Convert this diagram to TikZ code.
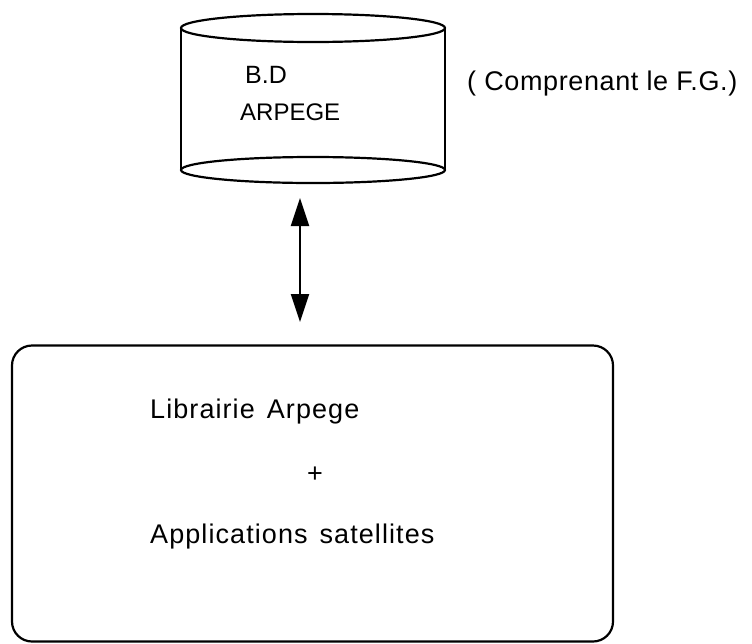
\documentclass[tikz,border=0pt]{standalone}
\usepackage{fontspec}
\setmainfont{Liberation Sans}
\newfontfamily\widesans[LetterSpace=4,WordSpace=1.4]{Liberation Sans}
\newfontfamily\midsans[LetterSpace=2.3]{Liberation Sans}
\usetikzlibrary{arrows.meta}
\begin{document}
\begin{tikzpicture}[x=1pt,y=-1pt,
  stroke/.style={line width=2.2pt, black},
  lbl/.style={inner sep=0pt, anchor=base west, font=\fontsize{25}{30}\selectfont},
  boxlbl/.style={inner sep=0pt, anchor=base west, font=\fontsize{27}{32}\widesans},
  biarrow/.style={line width=2pt, {Triangle[width=18pt,length=28pt]}-{Triangle[width=18pt,length=28pt]}}
]
\useasboundingbox (0,0) rectangle (752,643);
% cylinder
\draw[stroke] (313,28) ellipse [x radius=132, y radius=14];
\draw[stroke] (313,170) ellipse [x radius=132, y radius=13];
\draw[stroke] (181,28) -- (181,170);
\draw[stroke] (445,28) -- (445,170);
\node[lbl] (bd) at (245,83) {B.D};
\node[lbl, font=\fontsize{24}{30}\selectfont] (arp) at (240,120) {ARPEGE};
\node[inner sep=0pt, anchor=base west, font=\fontsize{27}{32}\midsans] (fg) at (467,90) {( Comprenant le F.G.)};
% box
\node[stroke, draw, rounded corners=20pt, minimum width=601pt, minimum height=296pt, inner sep=0pt] (box) at (312.5,493.5) {};
\node[boxlbl] (lib) at (150,418) {Librairie Arpege};
\node[inner sep=0pt, font=\fontsize{27}{32}\selectfont] (plus) at (315,475) {+};
\node[boxlbl] (app) at (150,543) {Applications satellites};
% arrow
\coordinate (dbout) at (300,198);
\coordinate (boxin) at (300,322);
\draw[biarrow] (dbout) -- (boxin);
\end{tikzpicture}
\end{document}
